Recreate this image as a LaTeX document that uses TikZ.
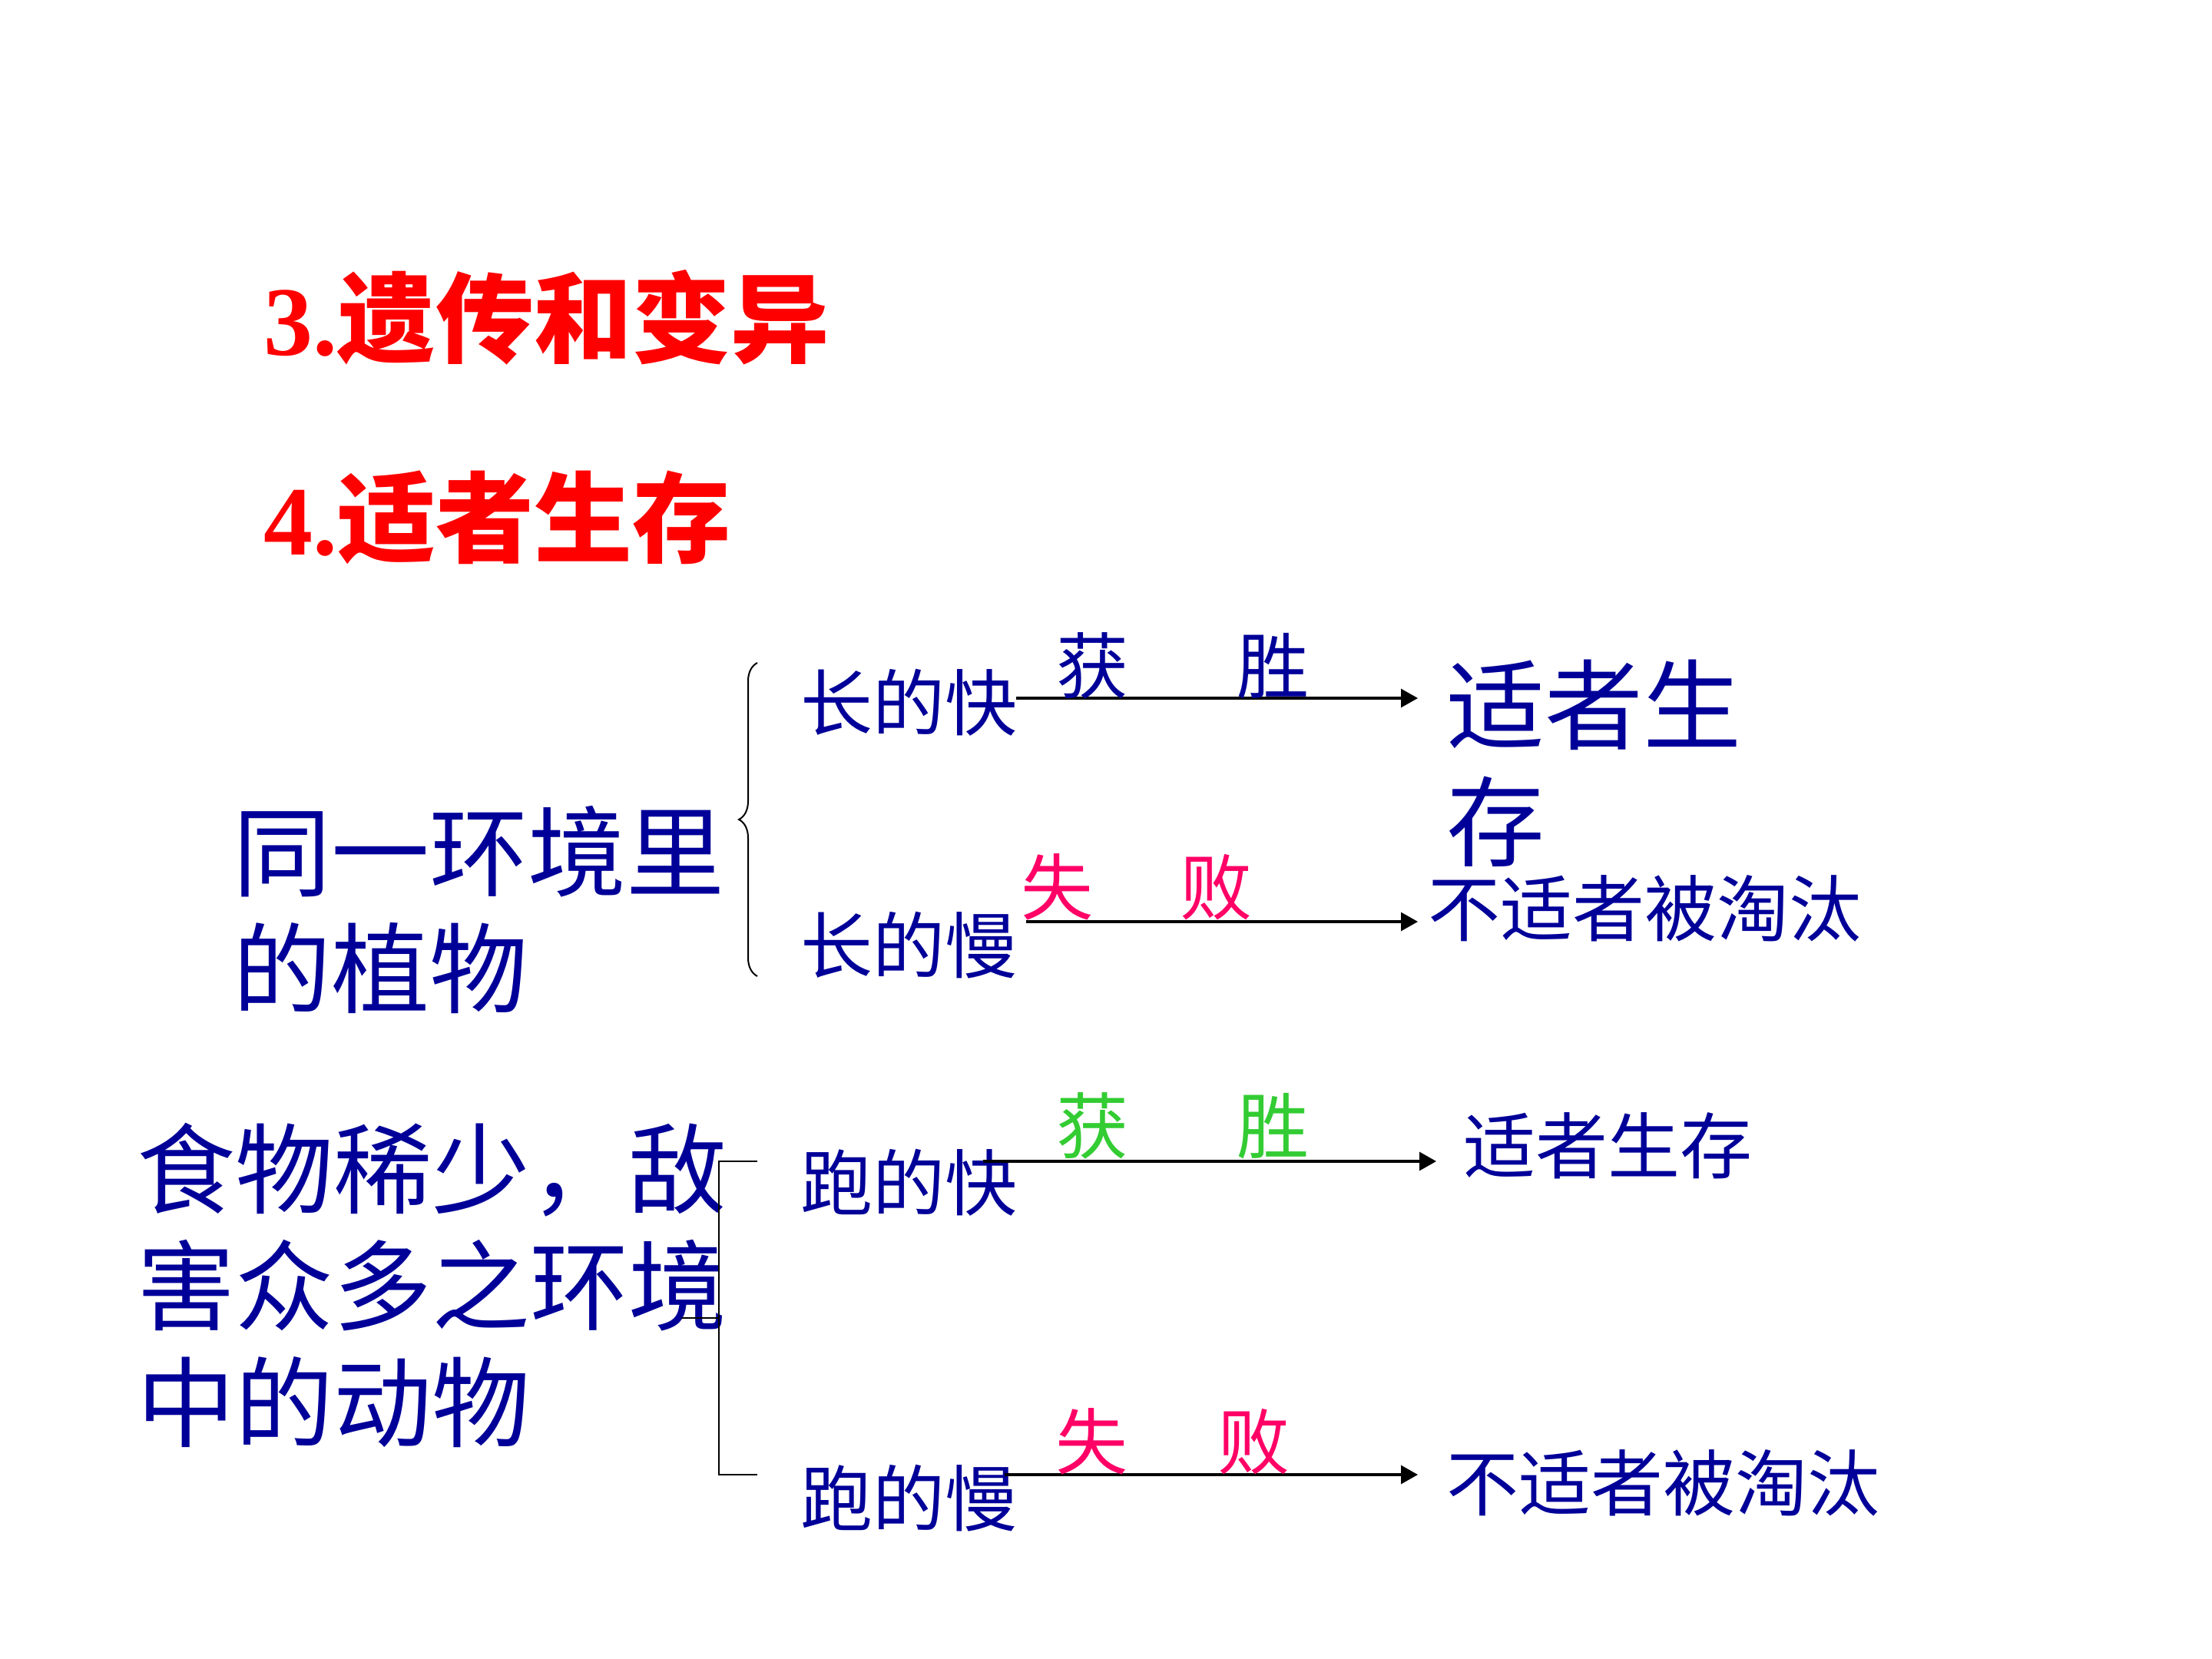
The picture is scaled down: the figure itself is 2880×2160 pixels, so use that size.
\documentclass[tikz,border=0pt]{standalone}
\usepackage{fontspec}
\setmainfont{Liberation Serif}
\newfontfamily\cjk{Noto Sans CJK SC}
\usetikzlibrary{arrows.meta,decorations.pathreplacing}

\definecolor{navytext}{RGB}{0,0,153}
\definecolor{wingreen}{RGB}{51,204,51}
\definecolor{losepink}{RGB}{255,0,102}

\begin{document}
\begin{tikzpicture}[x=0.25pt,y=-0.25pt,
  every node/.style={inner sep=0pt, anchor=west},
  heading/.style={font=\fontsize{32}{38}\selectfont\bfseries, text=red},
  big/.style={font=\cjk\fontsize{32}{38}\selectfont, text=navytext, align=left},
  small/.style={font=\cjk\fontsize{23.5}{28}\selectfont, text=navytext},
  lbl/.style={font=\cjk\fontsize{23.5}{28}\selectfont, anchor=center},
  arr/.style={-{Triangle[length=5.5pt,width=6pt]}, line width=0.8pt},
  bracket/.style={line width=0.7pt}]

% page
\fill[white] (0,0) rectangle (2880,2160);
\useasboundingbox (0,0) rectangle (2880,2160);

% headings
\node[heading] (h3) at (343,413) {3.{\cjk 遗传和变异}};
\node[heading] (h4) at (343,674) {4.{\cjk 适者生存}};

% plants
\node[big] (plant) at (303,1184) {同一环境里\\的植物};
\node[small] (fast1) at (1042,915) {长的快};
\node[small] (slow1) at (1042,1231) {长的慢};
\node[big] (res1) at (1883,994) {适者生\\存};
\node[small] (res2) at (1859,1183) {不适者被淘汰};

\draw[decorate, decoration={brace, amplitude=6pt}, line width=0.5pt]
  (986,1271) -- (986,863);

\coordinate (s1) at (1323,909);
\coordinate (e1) at (1846,909);
\coordinate (s2) at (1336,1200);
\coordinate (e2) at (1846,1200);
\draw[arr] (s1) -- (e1);
\draw[arr] (s2) -- (e2);

\node[lbl, text=navytext] (win1) at (1540,867) {获\hspace{1.5em}胜};
\node[lbl, text=losepink] (lose1) at (1480,1155) {失\hspace{1.2em}败};

% animals
\node[big] (animal) at (178,1673) {食物稀少，敌\\害众多之环境\\中的动物};
\node[small] (fast2) at (1042,1540) {跑的快};
\node[small] (slow2) at (1042,1951) {跑的慢};
\node[small] (res3) at (1905,1492) {适者生存};
\node[small] (res4) at (1883,1931) {不适者被淘汰};

\coordinate (b1) at (986,1512);
\coordinate (b2) at (986,1920);
\coordinate (bm) at (887,1716);
\draw[bracket] (b1) -- (936,1512) -- (936,1920) -- (b2);
\draw[bracket] (936,1716) -- (bm);

\coordinate (s3) at (1280,1512);
\coordinate (e3) at (1870,1512);
\coordinate (s4) at (1308,1920);
\coordinate (e4) at (1846,1920);
\draw[arr] (s3) -- (e3);
\draw[arr] (s4) -- (e4);

\node[lbl, text=wingreen] (win2) at (1540,1466) {获\hspace{1.5em}胜};
\node[lbl, text=losepink] (lose2) at (1527,1877) {失\hspace{1.24em}败};

\end{tikzpicture}
\end{document}
